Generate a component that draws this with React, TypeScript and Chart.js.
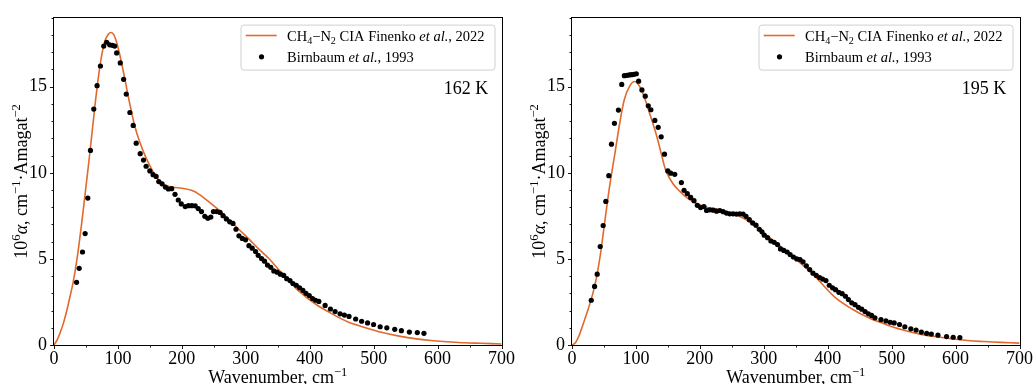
import React, { useEffect, useRef } from "react";
import { Chart, registerables } from "chart.js";

Chart.register(...registerables);

const FONT = '"Liberation Serif", "Times New Roman", Times, serif';
const LINE_COLOR = "#E1692B";

// ---- 162 K panel ----
const curve162X = [0, 5, 10, 15, 20, 25, 30, 35, 40, 45, 50, 55, 60, 65, 70, 75, 80, 85, 89, 93, 97, 102, 110, 118, 126, 134, 144, 157, 170, 185, 200, 215, 227, 240, 250, 260, 274, 289, 305, 320, 336, 352, 367, 383, 409, 435, 460, 486, 512, 538, 564, 590, 616, 642, 668, 700];
const curve162Y = [0, 0.3, 0.75, 1.3, 2.0, 2.8, 3.65, 4.75, 6.1, 7.6, 9.2, 10.8, 12.5, 14.2, 15.7, 16.9, 17.7, 18.05, 18.15, 18.05, 17.7, 17.0, 15.6, 14.1, 12.76, 11.8, 10.87, 9.93, 9.36, 9.17, 9.1, 8.98, 8.75, 8.38, 8.08, 7.78, 7.28, 6.72, 6.15, 5.58, 5.02, 4.36, 3.75, 3.13, 2.38, 1.81, 1.34, 1.02, 0.74, 0.53, 0.37, 0.26, 0.19, 0.13, 0.1, 0.06];
const points162X = [35.3, 39.4, 44.6, 48.7, 52.9, 57, 62.2, 67.4, 72.6, 77.8, 82.4, 87.1, 91.3, 94.9, 98, 103.7, 108.9, 113, 118.7, 123.9, 128.6, 134.8, 140, 144.1, 149.9, 155, 159.7, 163.9, 169, 174.2, 178.9, 184.1, 189.3, 194.4, 199.1, 205.3, 210.5, 215.7, 220.9, 225.6, 230.7, 235.9, 240.6, 245.3, 249.4, 254.6, 259.8, 264.4, 269.6, 274.8, 280, 284.7, 289.3, 294.5, 299.7, 304.9, 310, 315.3, 319.4, 324.6, 329.3, 333.9, 339.1, 343.8, 349, 354.1, 359.3, 364, 369.2, 373.8, 379, 384.2, 389.4, 394.1, 399.3, 404.4, 409.1, 414.3, 424.1, 432.4, 439.7, 447.5, 454.2, 461.5, 471.9, 481.2, 490.5, 499.9, 510.2, 520.6, 533, 543.4, 555.9, 568.3, 578.7];
const points162Y = [3.64, 4.45, 5.4, 6.47, 8.53, 11.3, 13.7, 15.06, 16.2, 17.36, 17.58, 17.43, 17.4, 17.36, 16.96, 16.38, 15.43, 14.57, 13.5, 12.75, 11.72, 11.11, 10.74, 10.38, 10.11, 9.89, 9.79, 9.49, 9.36, 9.17, 9.06, 9.08, 8.75, 8.42, 8.19, 8.04, 8.09, 8.09, 8.08, 7.92, 7.75, 7.47, 7.36, 7.43, 7.75, 7.75, 7.7, 7.51, 7.32, 7.15, 7.06, 6.72, 6.34, 6.19, 6.11, 5.77, 5.62, 5.43, 5.21, 5.02, 4.87, 4.64, 4.51, 4.3, 4.23, 4.11, 4.04, 3.85, 3.74, 3.57, 3.47, 3.32, 3.17, 3.0, 2.87, 2.7, 2.6, 2.53, 2.3, 2.09, 1.94, 1.81, 1.74, 1.66, 1.51, 1.38, 1.28, 1.19, 1.06, 1.0, 0.91, 0.83, 0.75, 0.72, 0.68];

// ---- 195 K panel ----
const curve195X = [0, 5, 10, 15, 20, 25, 30, 35, 40, 45, 50, 55, 60, 67, 75, 82, 90, 98, 106, 114, 121, 132, 140, 147, 158, 168, 181, 194, 210, 230, 256, 272, 292, 313, 334, 355, 375, 386, 412, 438, 464, 490, 515, 541, 567, 593, 619, 645, 671, 700];
const curve195Y = [0, 0.12, 0.45, 0.95, 1.5, 2.05, 2.65, 3.35, 4.25, 5.4, 6.8, 8.2, 9.5, 11.1, 12.95, 14.27, 15.02, 15.3, 15.0, 14.3, 13.5, 12.2, 11.06, 10.11, 9.36, 8.95, 8.51, 8.23, 8.0, 7.85, 7.57, 7.28, 6.72, 6.12, 5.49, 4.83, 4.17, 3.75, 2.75, 2.09, 1.58, 1.21, 0.9, 0.66, 0.49, 0.36, 0.26, 0.2, 0.15, 0.11];
const points195X = [30.1, 35.3, 39.4, 44.1, 48.7, 52.9, 57.6, 61.7, 66.4, 72.6, 77.8, 81.9, 86.1, 89.7, 93.3, 97, 100.6, 104.2, 109.4, 114.6, 119.3, 123.4, 129.6, 134.8, 139.5, 144.7, 149.9, 154.5, 160.7, 171.1, 175.3, 180.4, 185.6, 190.8, 196, 201.2, 206.4, 210.5, 215.7, 220.9, 226.1, 231.2, 236.4, 241.6, 246.8, 252, 257.2, 262.4, 267.6, 272.2, 277.4, 282.6, 287.8, 293, 297.1, 300.7, 305.9, 311.1, 316.3, 321.5, 326.1, 331.3, 336.5, 341.2, 346.4, 351.6, 356.7, 361.4, 366.6, 371.8, 377, 382.1, 387.3, 392, 397.2, 402.4, 407.6, 412.2, 417.4, 422.6, 427.8, 432.4, 437.6, 442.8, 448, 453.2, 458.4, 463.6, 468.7, 473.9, 483.3, 491.1, 497.8, 504, 512.3, 520.6, 530, 538.2, 546.5, 554.8, 562.1, 572.4, 585.9, 596.3, 606.7];
const points195Y = [2.6, 3.4, 4.11, 5.72, 6.94, 8.34, 9.83, 11.66, 12.87, 13.64, 15.13, 15.64, 15.66, 15.68, 15.7, 15.72, 15.75, 15.32, 14.81, 14.45, 13.89, 13.66, 13.04, 12.64, 12.09, 11.08, 10.11, 9.98, 9.91, 9.43, 8.98, 8.79, 8.57, 8.38, 8.11, 7.98, 8.04, 7.81, 7.85, 7.83, 7.77, 7.81, 7.74, 7.66, 7.62, 7.62, 7.6, 7.62, 7.6, 7.47, 7.28, 7.09, 6.96, 6.72, 6.57, 6.38, 6.23, 6.04, 5.96, 5.83, 5.58, 5.49, 5.4, 5.25, 5.11, 5.0, 4.96, 4.83, 4.6, 4.38, 4.17, 4.04, 3.92, 3.83, 3.74, 3.47, 3.32, 3.21, 3.06, 2.98, 2.83, 2.64, 2.45, 2.34, 2.19, 2.08, 1.94, 1.81, 1.72, 1.58, 1.47, 1.4, 1.32, 1.28, 1.19, 1.06, 0.94, 0.87, 0.75, 0.68, 0.64, 0.57, 0.49, 0.45, 0.43];

// ---- axes / labels ----
const xMin = 0;
const xMax = 700;
const xMajorStep = 100;
const xMinorStep = 50;
const yMin = 0;
const yMax = 19;
const yMajorStep = 5;
const yMinorStep = 1;
const temperatureLabels = ["162 K", "195 K"];

type Seg = { t: string; it?: boolean; sup?: boolean; sub?: boolean };

const xTitle: Seg[] = [{ t: "Wavenumber, cm" }, { t: "\u22121", sup: true }];
const yTitle: Seg[] = [
  { t: "10" },
  { t: "6", sup: true },
  { t: "\u03b1", it: true },
  { t: ", cm" },
  { t: "\u22121", sup: true },
  { t: "\u00b7Amagat" },
  { t: "\u22122", sup: true },
];
const legendModel: Seg[] = [
  { t: "CH" },
  { t: "4", sub: true },
  { t: "\u2212N" },
  { t: "2", sub: true },
  { t: " CIA Finenko " },
  { t: "et al.", it: true },
  { t: ", 2022" },
];
const legendExp: Seg[] = [{ t: "Birnbaum " }, { t: "et al.", it: true }, { t: ", 1993" }];

function segFont(s: Seg, size: number) {
  const sz = s.sup || s.sub ? size * 0.7 : size;
  return `${s.it ? "italic " : ""}${sz}px ${FONT}`;
}
function measureRich(ctx: CanvasRenderingContext2D, segs: Seg[], size: number) {
  let w = 0;
  for (const s of segs) {
    ctx.font = segFont(s, size);
    w += ctx.measureText(s.t).width;
  }
  return w;
}
function drawRich(ctx: CanvasRenderingContext2D, segs: Seg[], x: number, y: number, size: number) {
  let cx = x;
  ctx.textAlign = "left";
  ctx.textBaseline = "alphabetic";
  for (const s of segs) {
    ctx.font = segFont(s, size);
    const dy = s.sup ? -size * 0.4 : s.sub ? size * 0.22 : 0;
    ctx.fillText(s.t, cx, y + dy);
    cx += ctx.measureText(s.t).width;
  }
}

function makeDecor(tempLabel: string) {
  return {
    id: "decor" + tempLabel,
    afterDraw(chart: any) {
      const ctx: CanvasRenderingContext2D = chart.ctx;
      const a = chart.chartArea;
      const xs = chart.scales.x;
      const ys = chart.scales.y;
      ctx.save();
      // spines
      ctx.strokeStyle = "#000";
      ctx.lineWidth = 1;
      ctx.strokeRect(Math.round(a.left) - 0.5, Math.round(a.top) - 0.5, Math.round(a.right - a.left) + 1, Math.round(a.bottom - a.top) + 1);
      // ticks (outward, left & bottom)
      ctx.lineWidth = 0.9;
      ctx.beginPath();
      for (let v = xMin; v <= xMax + 1e-6; v += xMinorStep) {
        const major = Math.abs(v / xMajorStep - Math.round(v / xMajorStep)) < 1e-6;
        const px = Math.round(xs.getPixelForValue(v)) + 0.5;
        const len = major ? 4 : 2.5;
        ctx.moveTo(px, a.bottom);
        ctx.lineTo(px, a.bottom + len);
      }
      for (let v = yMin; v <= yMax + 1e-6; v += yMinorStep) {
        const major = Math.abs(v / yMajorStep - Math.round(v / yMajorStep)) < 1e-6;
        const py = Math.round(ys.getPixelForValue(v)) + 0.5;
        const len = major ? 4 : 2.5;
        ctx.moveTo(a.left, py);
        ctx.lineTo(a.left - len, py);
      }
      ctx.stroke();

      // legend box
      const bx = a.right - 260.5;
      const by = a.top + 7.3;
      const bw = 254;
      const bh = 45;
      ctx.beginPath();
      const r = 3;
      ctx.moveTo(bx + r, by);
      ctx.lineTo(bx + bw - r, by);
      ctx.quadraticCurveTo(bx + bw, by, bx + bw, by + r);
      ctx.lineTo(bx + bw, by + bh - r);
      ctx.quadraticCurveTo(bx + bw, by + bh, bx + bw - r, by + bh);
      ctx.lineTo(bx + r, by + bh);
      ctx.quadraticCurveTo(bx, by + bh, bx, by + bh - r);
      ctx.lineTo(bx, by + r);
      ctx.quadraticCurveTo(bx, by, bx + r, by);
      ctx.closePath();
      ctx.fillStyle = "rgba(255,255,255,0.8)";
      ctx.fill();
      ctx.strokeStyle = "#d0d0d0";
      ctx.lineWidth = 1;
      ctx.stroke();

      // legend entries
      ctx.strokeStyle = LINE_COLOR;
      ctx.lineWidth = 1.6;
      ctx.beginPath();
      ctx.moveTo(bx + 4.7, a.top + 17.7);
      ctx.lineTo(bx + 35.7, a.top + 17.7);
      ctx.stroke();
      ctx.fillStyle = "#000";
      ctx.beginPath();
      ctx.arc(bx + 20.5, a.top + 39, 2.6, 0, Math.PI * 2);
      ctx.fill();
      drawRich(ctx, legendModel, bx + 46, a.top + 23.3, 14.5);
      drawRich(ctx, legendExp, bx + 46, a.top + 44.3, 14.5);

      // temperature label
      ctx.font = `18px ${FONT}`;
      ctx.textAlign = "right";
      ctx.textBaseline = "alphabetic";
      ctx.fillText(tempLabel, a.right - 13.3, a.top + 76);

      // axis titles
      const cx = (a.left + a.right) / 2;
      const wx = measureRich(ctx, xTitle, 18);
      drawRich(ctx, xTitle, cx - wx / 2, 383, 18);
      const cy = (a.top + a.bottom) / 2;
      const wy = measureRich(ctx, yTitle, 18);
      ctx.translate(27, cy);
      ctx.rotate(-Math.PI / 2);
      drawRich(ctx, yTitle, -wy / 2, 0, 18);
      ctx.restore();
    },
  };
}

function Panel(props: { curveX: number[]; curveY: number[]; ptsX: number[]; ptsY: number[]; temp: string }) {
  const ref = useRef<HTMLCanvasElement | null>(null);
  useEffect(() => {
    if (!ref.current) return;
    const tickFont = { family: FONT, size: 18 };
    const chart = new Chart(ref.current, {
      type: "scatter",
      data: {
        datasets: [
          {
            label: "Birnbaum et al., 1993",
            data: props.ptsX.map((x, i) => ({ x, y: props.ptsY[i] })),
            pointRadius: 2.6,
            pointHoverRadius: 2.6,
            pointBackgroundColor: "#000",
            pointBorderWidth: 0,
            showLine: false,
            order: 0,
          },
          {
            type: "line",
            label: "CH4-N2 CIA Finenko et al., 2022",
            data: props.curveX.map((x, i) => ({ x, y: props.curveY[i] })),
            borderColor: LINE_COLOR,
            borderWidth: 1.6,
            pointRadius: 0,
            showLine: true,
            fill: false,
            tension: 0.35,
            order: 1,
          } as any,
        ],
      },
      options: {
        animation: false,
        responsive: false,
        devicePixelRatio: 1,
        layout: { padding: { top: 10, right: 14, left: 0, bottom: 0 } },
        plugins: { legend: { display: false }, tooltip: { enabled: false } },
        events: [],
        scales: {
          x: {
            type: "linear",
            min: xMin,
            max: xMax,
            afterFit: (s: any) => {
              s.height = 39;
            },
            grid: { display: false, drawTicks: false },
            border: { display: false },
            ticks: { stepSize: xMajorStep, color: "#000", font: tickFont, padding: 3, maxRotation: 0, includeBounds: false },
          },
          y: {
            type: "linear",
            min: yMin,
            max: yMax,
            afterFit: (s: any) => {
              s.width = 54;
            },
            grid: { display: false, drawTicks: false },
            border: { display: false },
            ticks: { stepSize: yMajorStep, color: "#000", font: tickFont, padding: 7, includeBounds: false },
          },
        },
      } as any,
      plugins: [makeDecor(props.temp)],
    });
    return () => chart.destroy();
  }, []);
  return <canvas ref={ref} width={518} height={384} style={{ display: "block", width: 518, height: 384 }} />;
}

export default function App() {
  return (
    <div style={{ position: "absolute", left: 0, top: 0, width: 1036, height: 384, display: "flex", background: "#fff", overflow: "hidden" }}>
      <Panel curveX={curve162X} curveY={curve162Y} ptsX={points162X} ptsY={points162Y} temp={temperatureLabels[0]} />
      <Panel curveX={curve195X} curveY={curve195Y} ptsX={points195X} ptsY={points195Y} temp={temperatureLabels[1]} />
    </div>
  );
}
